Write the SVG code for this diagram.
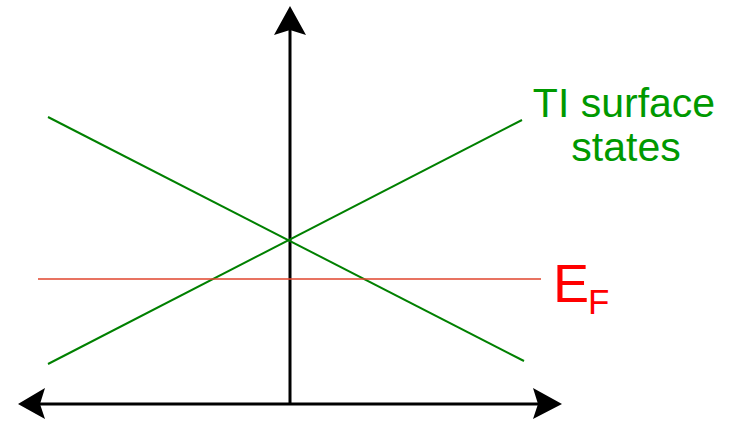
<svg xmlns="http://www.w3.org/2000/svg" width="732" height="422" viewBox="0 0 732 422">
<style>
.axis{stroke:#000;stroke-width:3;fill:none}
.band{stroke:#008000;stroke-width:2;fill:none}
.ef{stroke:#e0442c;stroke-width:1.5;fill:none}
.lbl{font-family:"Liberation Sans",Arial,sans-serif}
</style>
<rect width="732" height="422" fill="#fff"/>
<g id="connectors">
<line class="axis" x1="290" y1="405" x2="290" y2="30"/>
<line class="axis" x1="40" y1="404" x2="540" y2="404"/>
<path d="M290,6 L306,35 L290,30 L274,35 Z" fill="#000"/>
<path d="M18,404 L45,388 L40,404 L45,419 Z" fill="#000"/>
<path d="M562,404 L533,388 L538,404 L533,419 Z" fill="#000"/>
<line class="band" x1="48" y1="117" x2="524" y2="361"/>
<line class="band" x1="48" y1="364" x2="522" y2="120"/>
<line class="ef" x1="38" y1="279" x2="541" y2="279"/>
</g>
<g id="ti-label">
<text class="lbl" x="624" y="117" font-size="41" fill="#009900" text-anchor="middle">TI surface</text>
<text class="lbl" x="626" y="161" font-size="41" fill="#009900" text-anchor="middle">states</text>
</g>
<g id="ef-label">
<text class="lbl" x="553" y="302" font-size="54" fill="#ff0000">E<tspan font-size="35" x="588" y="314">F</tspan></text>
</g>
</svg>
